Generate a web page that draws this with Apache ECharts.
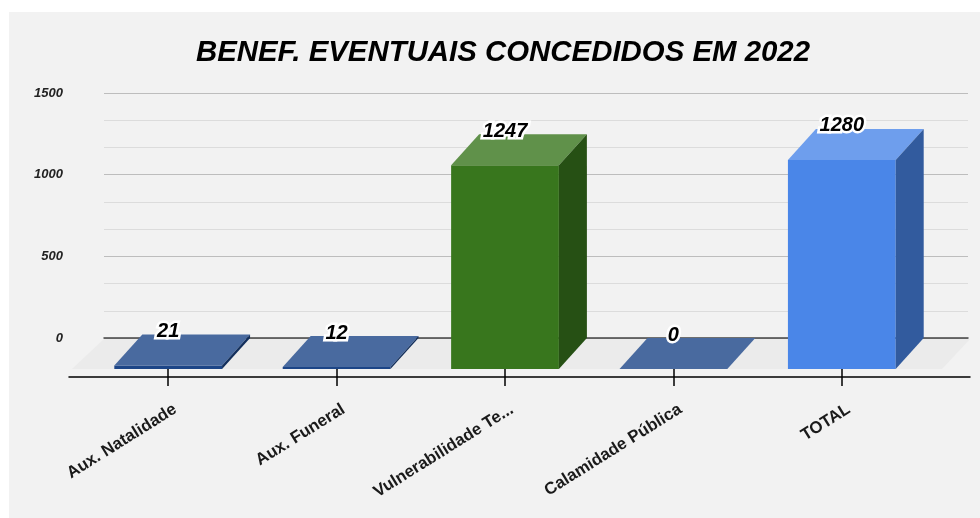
<!DOCTYPE html>
<html>
<head>
<meta charset="utf-8">
<script src="https://cdn.jsdelivr.net/npm/echarts@6/dist/echarts.min.js"></script>
<style>
html, body { margin: 0; padding: 0; background: #fff; }
#main { width: 980px; height: 518px; }
</style>
</head>
<body>
<div id="main"></div>
<script>
let categories = ['Aux. Natalidade', 'Aux. Funeral', 'Vulnerabilidade Temporária', 'Calamidade Pública', 'TOTAL'];
let values = [21, 12, 1247, 0, 1280];
let bar_colors = ['#1c4587', '#1c4587', '#38761d', '#1c4587', '#4a86e8'];
let y_min = 0, y_max = 1500, y_step = 500;

const FONT = '"Liberation Sans", Arial, sans-serif';
const DX = 28, DY = 31;   // 3d depth offset

function mix(hex, target, f) {
    let n = parseInt(hex.slice(1), 16);
    let r = n >> 16, g = (n >> 8) & 255, b = n & 255;
    r = Math.round(r + (target - r) * f);
    g = Math.round(g + (target - g) * f);
    b = Math.round(b + (target - b) * f);
    return 'rgb(' + r + ',' + g + ',' + b + ')';
}

function renderBar(params, api) {
    let i = api.value(0), v = api.value(1);
    let top = api.coord([i, v]);
    let base = api.coord([i, 0]);
    let hw = api.size([1, 0])[0] * 0.32;
    let cx = top[0], yt = top[1], y0 = base[1];
    let c = bar_colors[params.dataIndex];
    let font = 'italic bold 20px ' + FONT;
    return {
        type: 'group',
        children: [
            {type: 'rect', shape: {x: cx - hw - DX, y: yt + DY, width: 2 * hw, height: y0 - yt}, style: {fill: c}},
            {type: 'polygon', shape: {points: [[cx - hw, yt], [cx + hw, yt], [cx + hw - DX, yt + DY], [cx - hw - DX, yt + DY]]},
                style: {fill: mix(c, 255, 0.2)}},
            {type: 'polygon', shape: {points: [[cx + hw, yt], [cx + hw, y0], [cx + hw - DX, y0 + DY], [cx + hw - DX, yt + DY]]},
                style: {fill: mix(c, 0, 0.32)}},
            {type: 'text', style: {text: String(v), x: cx - DX, y: yt + 7, align: 'center', verticalAlign: 'bottom',
                font: font, fill: '#fff', stroke: '#fff', lineWidth: 5, lineJoin: 'round'}},
            {type: 'text', style: {text: String(v), x: cx - DX, y: yt + 7, align: 'center', verticalAlign: 'bottom',
                font: font, fill: '#000'}}
        ]
    };
}

function renderFloor(params, api) {
    let cs = params.coordSys;
    let y0 = api.coord([0, 0])[1] + 1;
    let x1 = cs.x, x2 = cs.x + cs.width + 2;
    return {
        type: 'polygon',
        shape: {points: [[x1, y0], [x2, y0], [x2 - DX, y0 + DY - 1], [x1 - DX - 4, y0 + DY - 1]]},
        style: {fill: '#ebebeb'}
    };
}

let mainchart = echarts.init(document.getElementById('main'));
let option = {
    backgroundColor: '#fff',
    animation: false,
    graphic: [{type: 'rect', z: -10, shape: {x: 9, y: 12, width: 980, height: 520}, style: {fill: '#f2f2f2'}}],
    title: {
        text: 'BENEF. EVENTUAIS CONCEDIDOS EM 2022',
        left: 498, top: 33, textAlign: 'center',
        textStyle: {fontFamily: FONT, fontSize: 29.4, fontWeight: 'bold', fontStyle: 'italic', color: '#000'}
    },
    grid: [
        {left: 104, right: 12, top: 93, bottom: 180},   // back wall
        {left: 84, right: 54, top: 93, bottom: 141},    // front ticks
        {left: 69, right: 10, top: 93, bottom: 141},    // front axis line
        {left: 91, right: 47, top: 93, bottom: 141}     // front labels
    ],
    xAxis: [
        {gridIndex: 0, type: 'value', min: -0.5475, max: 4.583,
            axisLine: {show: true, onZero: false, lineStyle: {color: '#444', width: 1.5}},
            axisTick: {show: false}, axisLabel: {show: false}, splitLine: {show: false}},
        {gridIndex: 1, type: 'category', position: 'bottom', data: categories,
            axisLine: {show: false}, axisLabel: {show: false},
            axisTick: {show: true, alignWithLabel: true, interval: 0, length: 9, lineStyle: {color: '#000', width: 1.5}}},
        {gridIndex: 1, type: 'category', position: 'bottom', data: categories,
            axisLine: {show: false}, axisLabel: {show: false},
            axisTick: {show: true, alignWithLabel: true, interval: 0, inside: true, length: 8, lineStyle: {color: '#000', width: 1.5}}},
        {gridIndex: 2, type: 'value', position: 'bottom', min: 0, max: 1,
            axisLine: {show: true, lineStyle: {color: '#000', width: 1.5}},
            axisTick: {show: false}, axisLabel: {show: false}, splitLine: {show: false}},
        {gridIndex: 3, type: 'category', position: 'bottom', data: categories,
            axisLine: {show: false}, axisTick: {show: false},
            axisLabel: {rotate: 32, margin: 31, interval: 0, fontFamily: FONT, fontSize: 16.8, fontWeight: 'bold',
                color: '#1a1a1a', width: 172, overflow: 'truncate', ellipsis: '...'}}
    ],
    yAxis: [
        {gridIndex: 0, type: 'value', min: y_min, max: y_max, interval: y_step,
            axisLine: {show: false}, axisTick: {show: false},
            axisLabel: {margin: 41, fontFamily: FONT, fontSize: 13, fontWeight: 'bold', fontStyle: 'italic', color: '#222',
                formatter: function (v) { return String(v); }},
            splitLine: {lineStyle: {color: '#bdbdbd', width: 1}},
            minorTick: {show: false, splitNumber: 3},
            minorSplitLine: {show: true, lineStyle: {color: '#dcdcdc', width: 1}}},
        {gridIndex: 1, type: 'value', show: false},
        {gridIndex: 2, type: 'value', show: false},
        {gridIndex: 3, type: 'value', show: false}
    ],
    series: [
        {type: 'custom', name: 'floor', xAxisIndex: 0, yAxisIndex: 0, z: -1,
            renderItem: renderFloor, data: [[0, 0]], silent: true},
        {type: 'custom', name: 'value', xAxisIndex: 0, yAxisIndex: 0,
            renderItem: renderBar, encode: {x: 0, y: 1},
            data: values.map(function (v, i) { return [i, v]; })}
    ]
};
mainchart.setOption(option);
</script>
</body>
</html>
